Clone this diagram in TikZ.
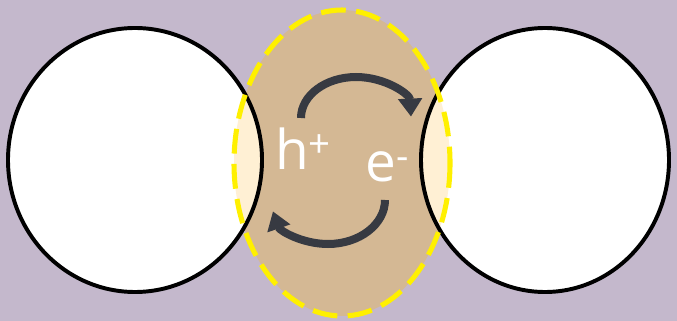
\documentclass[tikz,border=0pt]{standalone}
\usepackage{fontspec}
\usepackage{tikz}
\usetikzlibrary{arrows.meta}
\newfontfamily\chargefont{Open Sans}
\definecolor{bglilac}{RGB}{196,184,204}
\definecolor{junctan}{RGB}{212,184,148}
\definecolor{lenscream}{RGB}{255,240,212}
\definecolor{dashyellow}{RGB}{255,240,0}
\definecolor{arrowgrey}{RGB}{55,58,66}
\tikzset{
  grainfill/.style = {fill=white},
  grainline/.style = {draw=black, line width=2.8pt},
  zonedash/.style  = {draw=dashyellow, line width=3.6pt, dash pattern=on 0.62cm off 0.26cm},
  flowarrow/.style = {-{Triangle[width=0.58cm, length=0.45cm]}, draw=arrowgrey,
                      line width=0.2cm},
  chargelabel/.style = {text=white, inner sep=0pt, anchor=base west,
                        font=\chargefont\fontsize{39}{40}\selectfont}
}
\begin{document}
\begin{tikzpicture}[x=0.025cm, y=-0.025cm]
\useasboundingbox (0,0) rectangle (677,321);
\fill[bglilac] (0,0) rectangle (677,321);

% depletion zone between the two grains
\coordinate (zone) at (342,163);
\coordinate (lgrain) at (135,160);
\coordinate (rgrain) at (545,160);
\fill[junctan] (zone) ellipse [x radius=108, y radius=153];

% grains
\fill[grainfill] (lgrain) ellipse [x radius=127, y radius=132];
\fill[grainfill] (rgrain) ellipse [x radius=124, y radius=132];
\begin{scope}
  \clip (lgrain) ellipse [x radius=127, y radius=132]
        (rgrain) ellipse [x radius=124, y radius=132];
  \fill[lenscream] (zone) ellipse [x radius=108, y radius=153];
\end{scope}
\draw[grainline] (lgrain) ellipse [x radius=127, y radius=132];
\draw[grainline] (rgrain) ellipse [x radius=124, y radius=132];
\draw[zonedash] (zone) ellipse [x radius=108, y radius=153];

% charge flow
\coordinate (htail) at (301,118);
\coordinate (etail) at (385,200);
\draw[flowarrow] (htail) arc[start angle=180, end angle=358, x radius=55, y radius=41];
\draw[flowarrow] (etail) arc[start angle=0, end angle=165, x radius=57, y radius=44];

\node[chargelabel] (hole) at (275,170) {h\textsuperscript{+}};
\node[chargelabel] (elec) at (365,182) {e\textsuperscript{-}};
\end{tikzpicture}
\end{document}
